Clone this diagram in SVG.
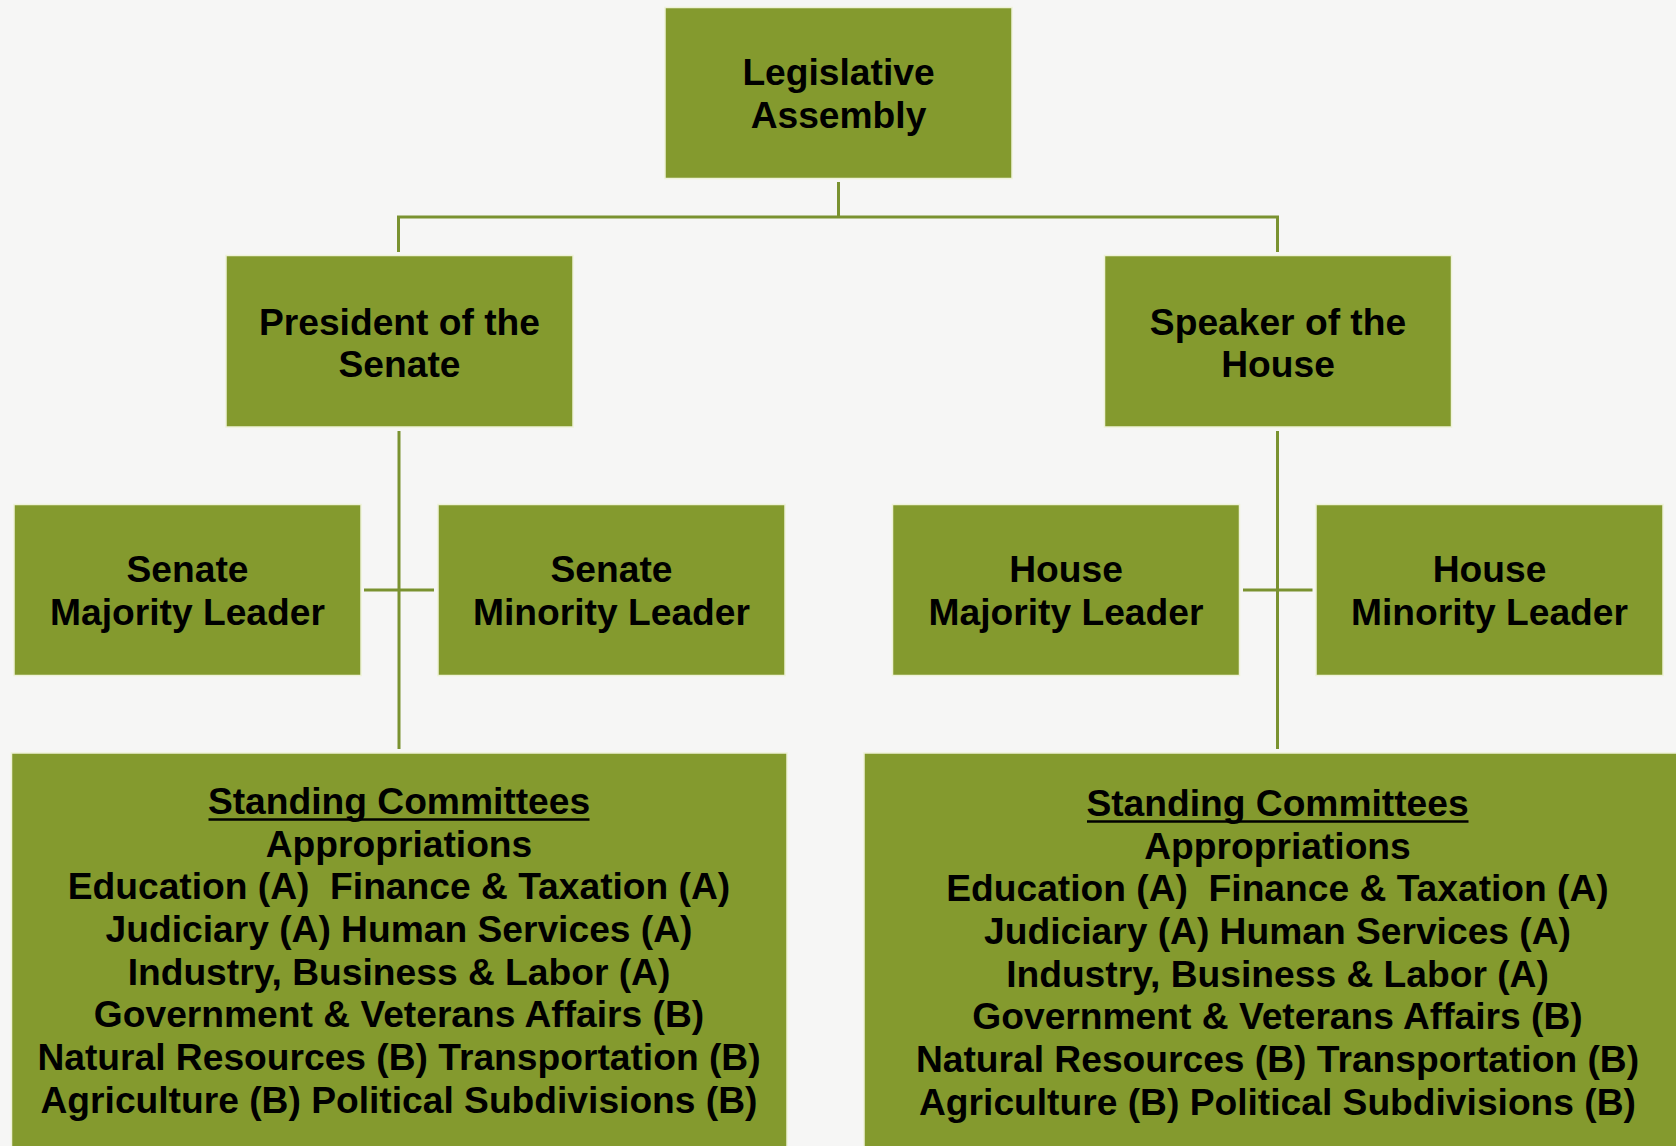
<svg xmlns="http://www.w3.org/2000/svg" width="1676" height="1146" viewBox="0 0 1676 1146">
<style>
.box{fill:#849A2E;stroke:#EEF2D8;stroke-width:1.5}
.t{font-family:"Liberation Sans",Arial,sans-serif;font-weight:bold;font-size:37.2px;fill:#000;text-anchor:middle;white-space:pre}
.c{fill:none;stroke:#7A9230;stroke-width:3}
.u{stroke:#000;stroke-width:2.6}
</style>
<rect x="0" y="0" width="1676" height="1146" fill="#F6F6F5"/>
<g id="connectors">
<path class="c" d="M838.5 182 V217"/>
<path class="c" d="M398.5 252 V217 H1277.5 V252"/>
<path class="c" d="M399 431 V749"/>
<path class="c" d="M364 590 H434"/>
<path class="c" d="M1277.5 431 V749"/>
<path class="c" d="M1243 590 H1312.5"/>
</g>
<g id="legislative-assembly">
<rect class="box" x="665" y="7.5" width="347" height="171"/>
<text class="t" x="838.5" y="85">Legislative</text>
<text class="t" x="838.5" y="127.5">Assembly</text>
</g>
<g id="president-senate">
<rect class="box" x="226" y="255.5" width="347" height="171.5"/>
<text class="t" x="399.5" y="334.5">President of the</text>
<text class="t" x="399.5" y="376.7">Senate</text>
</g>
<g id="speaker-house">
<rect class="box" x="1104.5" y="255.5" width="347" height="171.5"/>
<text class="t" x="1278" y="334.5">Speaker of the</text>
<text class="t" x="1278" y="376.7">House</text>
</g>
<g id="senate-majority">
<rect class="box" x="14" y="504.5" width="347" height="171"/>
<text class="t" x="187.5" y="581.7">Senate</text>
<text class="t" x="187.5" y="625">Majority Leader</text>
</g>
<g id="senate-minority">
<rect class="box" x="438" y="504.5" width="347" height="171"/>
<text class="t" x="611.5" y="581.7">Senate</text>
<text class="t" x="611.5" y="625">Minority Leader</text>
</g>
<g id="house-majority">
<rect class="box" x="892.5" y="504.5" width="347" height="171"/>
<text class="t" x="1066" y="581.7">House</text>
<text class="t" x="1066" y="625">Majority Leader</text>
</g>
<g id="house-minority">
<rect class="box" x="1316" y="504.5" width="347" height="171"/>
<text class="t" x="1489.5" y="581.7">House</text>
<text class="t" x="1489.5" y="625">Minority Leader</text>
</g>
<g id="senate-committees">
<rect class="box" x="11.5" y="753" width="775.5" height="400"/>
<text class="t" x="399" y="814">Standing Committees</text>
<line class="u" x1="208.5" y1="819.5" x2="589.5" y2="819.5"/>
<text class="t" x="399" y="856.7">Appropriations</text>
<text class="t" x="399" y="899.3">Education (A)  Finance &amp; Taxation (A)</text>
<text class="t" x="399" y="942">Judiciary (A) Human Services (A)</text>
<text class="t" x="399" y="984.7">Industry, Business &amp; Labor (A)</text>
<text class="t" x="399" y="1027.3">Government &amp; Veterans Affairs (B)</text>
<text class="t" x="399" y="1070">Natural Resources (B) Transportation (B)</text>
<text class="t" x="399" y="1112.7">Agriculture (B) Political Subdivisions (B)</text>
</g>
<g id="house-committees">
<rect class="box" x="864" y="753" width="830" height="400"/>
<text class="t" x="1277.5" y="816">Standing Committees</text>
<line class="u" x1="1087" y1="821.5" x2="1468.5" y2="821.5"/>
<text class="t" x="1277.5" y="858.7">Appropriations</text>
<text class="t" x="1277.5" y="901.3">Education (A)  Finance &amp; Taxation (A)</text>
<text class="t" x="1277.5" y="944">Judiciary (A) Human Services (A)</text>
<text class="t" x="1277.5" y="986.7">Industry, Business &amp; Labor (A)</text>
<text class="t" x="1277.5" y="1029.3">Government &amp; Veterans Affairs (B)</text>
<text class="t" x="1277.5" y="1072">Natural Resources (B) Transportation (B)</text>
<text class="t" x="1277.5" y="1114.7">Agriculture (B) Political Subdivisions (B)</text>
</g>
</svg>
